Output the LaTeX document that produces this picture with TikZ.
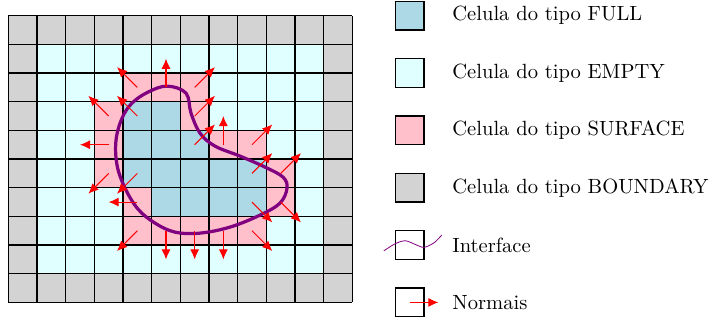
\documentclass[tikz,border=0pt]{standalone}
\usepackage{xcolor}
\usepackage{tikz}
\usetikzlibrary{arrows.meta, positioning}

\definecolor{cheia}{RGB}{173,216,230}
\definecolor{vazia}{RGB}{224,255,255}
\definecolor{superf}{RGB}{255,192,203}
\definecolor{contorno}{RGB}{211,211,211}
\definecolor{roxo}{RGB}{128,0,128}

\begin{document}
\begin{tikzpicture}[
    x=0.5cm, y=0.5cm,
    node distance=0.36cm,
    caixa/.style={draw, semithick, minimum size=0.5cm, inner sep=0pt},
    rotulo/.style={font=\fontsize{10.2pt}{12.5pt}\selectfont},
    normal/.style={-{Latex[length=5pt, width=4.5pt]}, red, line width=0.5pt},
    interface/.style={roxo, line width=1.6pt}
  ]
    \useasboundingbox (-0.29,-0.687) rectangle (24.545,10.548);

    \fill[contorno] (0,0) rectangle (12,10);
    \fill[vazia] (1,1) rectangle (11,9);
    \foreach \c/\r in {4/3, 5/3, 4/4, 5/4, 6/4, 4/5, 5/5, 6/5, 7/5, 8/5,
                       5/6, 6/6, 7/6, 8/6}
      \fill[cheia] (\c,9-\r) rectangle ++(1,1);
    \foreach \c/\r in {4/2, 5/2, 6/2, 3/3, 6/3, 3/4, 7/4, 8/4, 3/5, 9/5,
                       4/6, 9/6, 4/7, 5/7, 6/7, 7/7, 8/7}
      \fill[superf] (\c,9-\r) rectangle ++(1,1);
    \draw[semithick, step=0.5cm] (0,0) grid (12,10);

    \draw[interface] plot[smooth cycle, tension=0.6] coordinates {
      (5.535,7.544) (6.198,7.300) (6.372,6.603) (6.686,5.905) (7.209,5.452)
      (8.082,5.103) (8.953,4.720) (9.581,4.371) (9.721,3.987) (9.477,3.464)
      (8.779,3.045) (7.733,2.627) (6.686,2.417) (5.814,2.452) (5.117,2.766)
      (4.524,3.254) (4.071,3.987) (3.792,4.789) (3.757,5.661) (3.967,6.428)
      (4.315,6.952) (4.873,7.335)};

    \foreach \c/\r/\a in {4/2/135, 5/2/90, 6/2/45, 3/3/135, 4/3/135, 6/3/45,
                          3/4/180, 6/4/45, 7/4/90, 8/4/45, 3/5/225, 4/5/225,
                          8/5/45, 9/5/45, 4/6/180, 8/6/-45, 9/6/-45,
                          4/7/225, 5/7/270, 6/7/270, 7/7/270, 8/7/-45}
      \draw[normal] (\c+0.5,9.5-\r) -- ++(\a:1);

    \node[caixa, fill=cheia] (cxfull) at (14,10) {};
    \node[rotulo, right=of cxfull] (txfull) {Celula do tipo FULL};
    \node[caixa, fill=vazia] (cxempty) at (14,8) {};
    \node[rotulo, right=of cxempty] (txempty) {Celula do tipo EMPTY};
    \node[caixa, fill=superf] (cxsurf) at (14,6) {};
    \node[rotulo, right=of cxsurf] (txsurf) {Celula do tipo SURFACE};
    \node[caixa, fill=contorno] (cxbound) at (14,4) {};
    \node[rotulo, right=of cxbound] (txbound) {Celula do tipo BOUNDARY};
    \node[caixa] (cxinter) at (14,2) {};
    \node[rotulo, right=of cxinter] (txinter) {Interface};
    \draw[roxo, thin] plot[smooth] coordinates {
      (13.1,1.8) (13.5,2.05) (13.85,2.15) (14.2,2.02) (14.5,1.92)
      (14.85,2.08) (15.12,2.35)};
    \node[caixa] (cxnorm) at (14,0) {};
    \node[rotulo, right=of cxnorm] (txnorm) {Normais};
    \draw[normal] (cxnorm.center) -- ++(1,0);
  \end{tikzpicture}
\end{document}
